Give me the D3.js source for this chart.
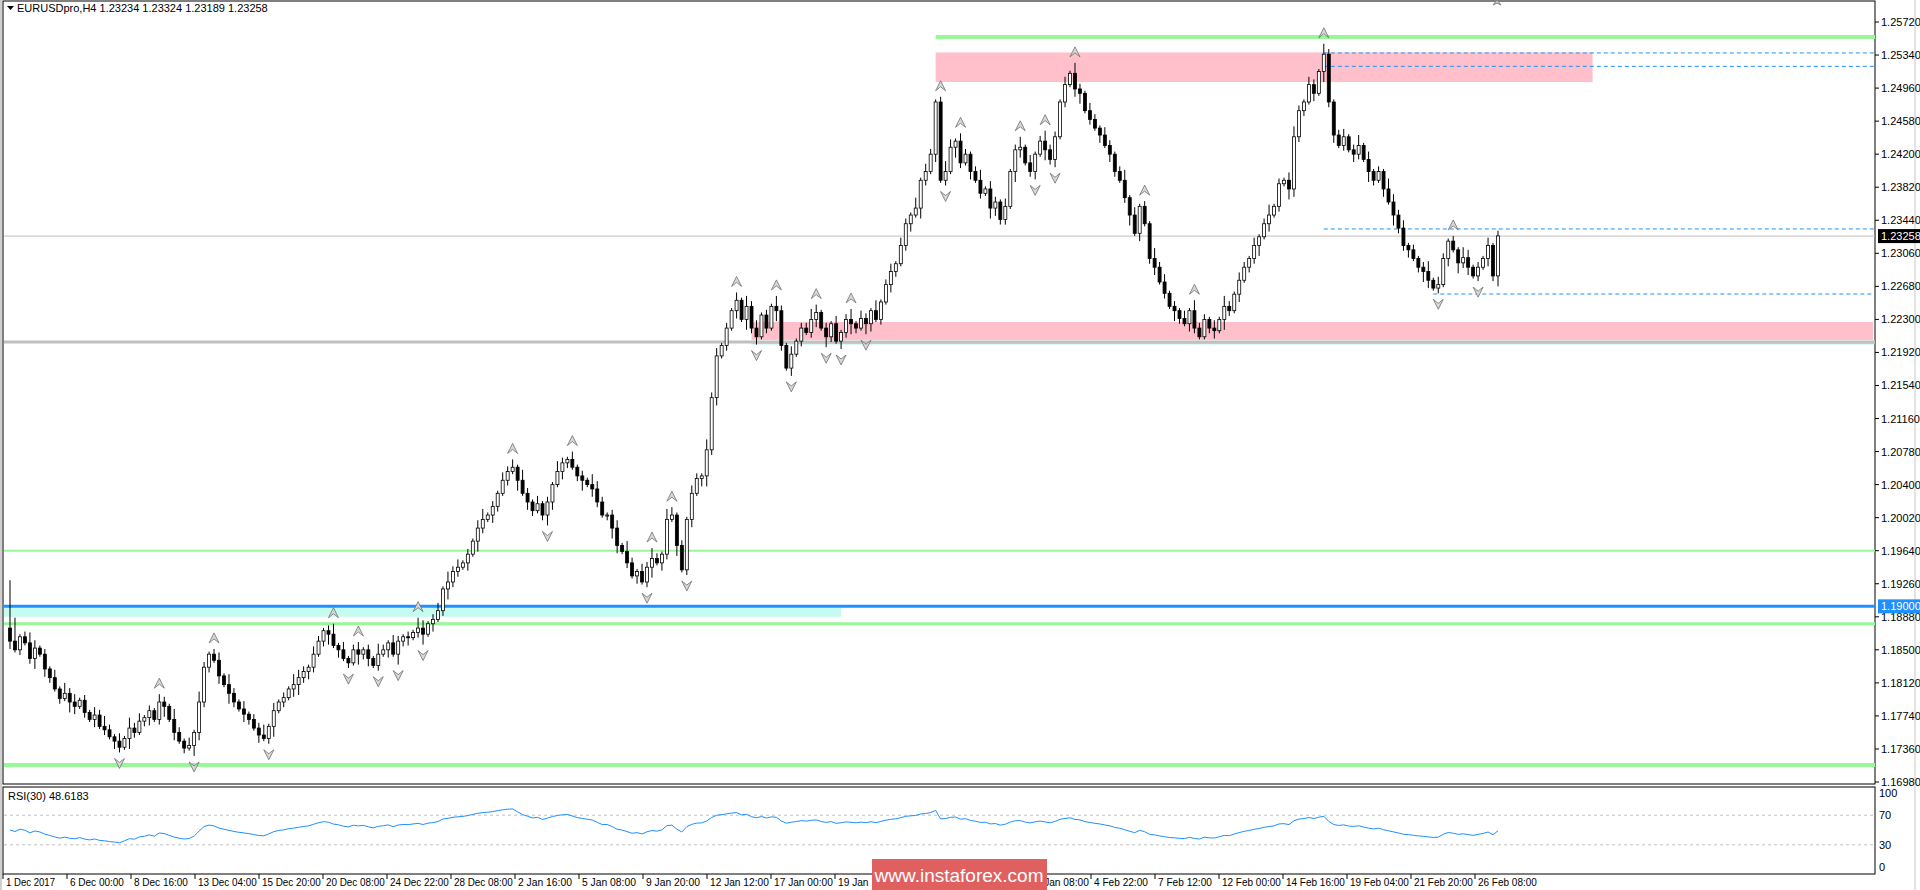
<!DOCTYPE html>
<html><head><meta charset="utf-8">
<script src="https://cdn.jsdelivr.net/npm/d3@7"></script>
<style>
body{margin:0;background:#fff;overflow:hidden}
text{font-family:"Liberation Sans",Arial,sans-serif;font-size:11px;fill:#000}
</style></head>
<body><svg id="c" width="1920" height="890"></svg>
<script>
// closes in pips above 1.17000, one per H4-ish bar
var closes = [160,150,165,158,140,152,145,128,118,105, 94,100,90,85,92,78,70,75,62,58,
  50,45,38,48,60,55,68,72,80,70, 90,85,70,55,45,37,40,55,90,130,
  145,138,120,110,100,90,82,76,70,60, 52,48,62,80,90,95,105,110,118,125,
  130,145,160,172,168,155,150,140,135,150, 145,150,140,132,145,150,158,145,160,165,
  164,170,175,168,180,185,195,220,228,240, 245,250,260,275,290,300,305,315,330,345,
  355,360,345,330,320,310,318,305,320,340, 355,365,369,360,350,345,340,335,320,305,
  305,290,270,263,250,235,240,228,245,255, 250,260,300,305,270,242,300,330,347,350,
  380,440,488,500,520,540,552,530,545,520, 510,535,520,545,540,500,474,490,505,520,
  515,530,538,520,510,525,505,515,530,525, 520,531,525,540,530,550,570,585,594,615,
  640,650,658,690,700,720,780,690,700,728, 735,710,720,700,690,675,680,658,665,645,
  660,700,725,728,710,700,720,735,725,714, 740,780,800,813,795,790,770,760,750,742,
  730,720,700,690,670,650,629,660,640,600, 590,573,560,545,540,531,525,540,520,510,
  530,520,517,530,545,540,559,575,590,600, 615,625,640,650,660,686,690,680,740,770,
  780,800,790,815,835,780,742,730,740,725, 720,730,714,700,690,700,680,665,650,635,
  615,610,600,590,585,575,566,570,600,620, 610,595,601,590,580,590,600,615,580,626];
var firstOpen = 175;
// wick lengths, 3 pips per digit
var wickUp = "2912431213 1423121324 2131423121 3214213142 1231421312 2413121432 1321241312 3121421321 2143123142 3121341213 2314213121 4213121432 1231421324 2143121321 4231213142 3121421312 2431213124 1321412313 2141321243 1321241321 3124131242 2131421321 3212413121 4231213142 2131421321 3124121342 1321421231 2413121432 3121241321 2143121312";
var wickDn = "3121241321 2143121312 1321421231 2413121432 2131421321 3124121342 3212413121 4231213142 3124131242 2131421321 2141321243 1321241321 2431213124 1321412313 4231213142 3121421312 1231421324 2143121321 2314213121 4213121432 2143123142 3121341213 1321241312 3121421321 1231421312 2413121432 2131423121 3214213142 2312431213 1423121324";
var priceTicks = [1.16980,1.17360,1.17740,1.18120,1.18500,1.18880,1.19260,1.19640,1.20020,1.20400,1.20780,1.21160,1.21540,1.21920,1.22300,1.22680,1.23060,1.23440,1.23820,1.24200,1.24580,1.24960,1.25340,1.25720];
var timeLabels = ["1 Dec 2017","6 Dec 00:00","8 Dec 16:00","13 Dec 04:00","15 Dec 20:00","20 Dec 08:00","24 Dec 22:00","28 Dec 08:00","2 Jan 16:00","5 Jan 08:00","9 Jan 20:00","12 Jan 12:00","17 Jan 00:00","19 Jan 16:00","24 Jan 04:00","26 Jan 20:00","31 Jan 08:00","4 Feb 22:00","7 Feb 12:00","12 Feb 00:00","14 Feb 16:00","19 Feb 04:00","21 Feb 20:00","26 Feb 08:00"];
var rsiTicks = [100,70,30,0];

var up = wickUp.replace(/ /g,""), dn = wickDn.replace(/ /g,"");
var data = closes.map(function(c,i){
  var o = i === 0 ? firstOpen : closes[i-1];
  var h = Math.max(o,c) + 3*(+up[i]||1), l = Math.min(o,c) - 3*(+dn[i]||1);
  if (i === 0) h = 230;
  return {i:i, o:1.17+o/1e4, c:1.17+c/1e4, h:1.17+h/1e4, l:1.17+l/1e4};
});

var svg = d3.select("#c");
var R = 1875;
var x = d3.scaleLinear().domain([0, closes.length-1]).range([10, 1498]);
var y = d3.scaleLinear().domain([1.1698, 1.2572]).range([782, 22]);
var yr = d3.scaleLinear().domain([0,100]).range([867, 793]);

// frames
svg.append("line").attr("x1",1).attr("x2",1).attr("y1",0).attr("y2",890).attr("stroke","#a0a0a0");
svg.append("line").attr("x1",1915).attr("x2",1915).attr("y1",0).attr("y2",890).attr("stroke","#c8c8c8");
svg.append("rect").attr("x",3).attr("y",1).attr("width",R-3).attr("height",783).attr("fill","none").attr("stroke","#000");
svg.append("rect").attr("x",3).attr("y",787).attr("width",R-3).attr("height",87).attr("fill","none").attr("stroke","#000");

// zones
var g = svg.append("g");
g.append("rect").attr("x",4).attr("y",y(1.1900)).attr("width",837).attr("height",y(1.1888)-y(1.1900)).attr("fill","#c6fbf0");
g.append("rect").attr("x",x(186)).attr("y",y(1.2537)).attr("width",x(318)-x(186)).attr("height",y(1.2503)-y(1.2537)).attr("fill","#ffc0cb");
g.append("rect").attr("x",x(149)).attr("y",y(1.2227)).attr("width",R-2-x(149)).attr("height",y(1.22064)-y(1.2227)).attr("fill","#ffc0cb");
function hl(p,x1,w,col,dash){g.append("line").attr("x1",x1).attr("x2",R).attr("y1",y(p)).attr("y2",y(p)).attr("stroke",col).attr("stroke-width",w).attr("stroke-dasharray",dash||null);}
hl(1.22040,4,3,"#c0c0c0");
hl(1.22020,x(149),1,"#7fe0d0");
hl(1.25547,x(186),4,"#98f898");
hl(1.19640,4,2,"#98f898");
hl(1.18800,4,3,"#98f898");
hl(1.17176,4,4,"#98f898");
hl(1.25364,x(264),1,"#1e90ff","4,3");
hl(1.25210,x(264),1,"#1e90ff","4,3");
hl(1.23340,x(264),1,"#1e90ff","4,3");
hl(1.22592,x(286),1,"#1e90ff","4,3");
hl(1.23258,4,1,"#c0c0c0");
hl(1.19000,4,3,"#1e90ff");

// candles
var cg = svg.append("g");
cg.selectAll("line").data(data).enter().append("line")
  .attr("x1",function(d){return x(d.i);}).attr("x2",function(d){return x(d.i);})
  .attr("y1",function(d){return y(d.h);}).attr("y2",function(d){return y(d.l);})
  .attr("stroke","#000");
cg.selectAll("rect").data(data).enter().append("rect")
  .attr("x",function(d){return x(d.i)-1.5;}).attr("width",3)
  .attr("y",function(d){return y(Math.max(d.o,d.c));})
  .attr("height",function(d){return Math.max(1,Math.abs(y(d.o)-y(d.c)));})
  .attr("fill",function(d){return d.c>=d.o?"#fff":"#000";}).attr("stroke","#000").attr("stroke-width",0.8);

// fractals
var fr = [];
data.forEach(function(d,i){
  if (i<2||i>data.length-3) return;
  var hs=[-2,-1,1,2].every(function(k){return data[i+k].h<d.h;});
  var ls=[-2,-1,1,2].every(function(k){return data[i+k].l>d.l;});
  if (hs) fr.push({x:x(i),y:y(d.h)-10,u:1});
  if (ls) fr.push({x:x(i),y:y(d.l)+10,u:0});
});
svg.append("g").selectAll("path").data(fr).enter().append("path")
  .attr("d",function(f){return f.u?"M"+f.x+","+(f.y-6)+"l5,10l-5,-4l-5,4z":"M"+f.x+","+(f.y+6)+"l5,-10l-5,4l-5,-4z";})
  .attr("fill","#d8d8d8").attr("stroke","#707070").attr("stroke-width",0.8);

// price axis
var ax = svg.append("g");
priceTicks.forEach(function(p){
  ax.append("line").attr("x1",R).attr("x2",R+4).attr("y1",y(p)).attr("y2",y(p)).attr("stroke","#000");
  ax.append("text").attr("x",R+6).attr("y",y(p)+4).text(p.toFixed(5));
});
function tag(p,bg,fg){
  ax.append("rect").attr("x",R+3).attr("y",y(p)-7).attr("width",42).attr("height",14).attr("fill",bg);
  ax.append("text").attr("x",R+6).attr("y",y(p)+4).style("fill",fg).text(p.toFixed(5));
}
tag(1.23258,"#000","#fff");
tag(1.19000,"#1e90ff","#fff");

// time axis
timeLabels.forEach(function(t,k){
  var xx = 3 + k*64;
  svg.append("line").attr("x1",xx).attr("x2",xx).attr("y1",874).attr("y2",879).attr("stroke","#000");
  svg.append("text").attr("x",xx+3).attr("y",886).style("font-size","10px").attr("textLength",t.length*4.9).attr("lengthAdjust","spacingAndGlyphs").text(t);
});

// RSI(30)
var rsi = [], ag=4, al=4, n=30;
closes.forEach(function(c,i){
  if (i>0){
    var ch=c-closes[i-1];
    ag=(ag*(n-1)+Math.max(ch,0))/n; al=(al*(n-1)+Math.max(-ch,0))/n;
  }
  rsi.push(al===0?100:100-100/(1+ag/al));
});
[70,30].forEach(function(v){
  svg.append("line").attr("x1",4).attr("x2",R).attr("y1",yr(v)).attr("y2",yr(v)).attr("stroke","#c0c0c0").attr("stroke-dasharray","3,3");
});
svg.append("path").datum(rsi).attr("fill","none").attr("stroke","#1e90ff").attr("stroke-width",1)
  .attr("d",d3.line().x(function(d,i){return x(i);}).y(function(d){return yr(d);}));
rsiTicks.forEach(function(v){
  svg.append("text").attr("x",R+4).attr("y",yr(v)+4).text(v);
});
svg.append("text").attr("x",8).attr("y",800).text("RSI(30) 48.6183");

// header
svg.append("path").attr("d","M7,6h7l-3.5,4z").attr("fill","#000");
svg.append("text").attr("x",17).attr("y",12).text("EURUSDpro,H4  1.23234 1.23324 1.23189 1.23258");
svg.append("path").attr("d","M1497,0l4,5l-4,-2l-4,2z").attr("fill","#d0d0d0").attr("stroke","#808080");

// watermark
svg.append("rect").attr("x",872).attr("y",859).attr("width",175).attr("height",31).attr("fill","#e06060");
svg.append("text").attr("x",959).attr("y",882).attr("text-anchor","middle").style("font-size","19px").style("fill","#fff").text("www.instaforex.com");
</script></body></html>
